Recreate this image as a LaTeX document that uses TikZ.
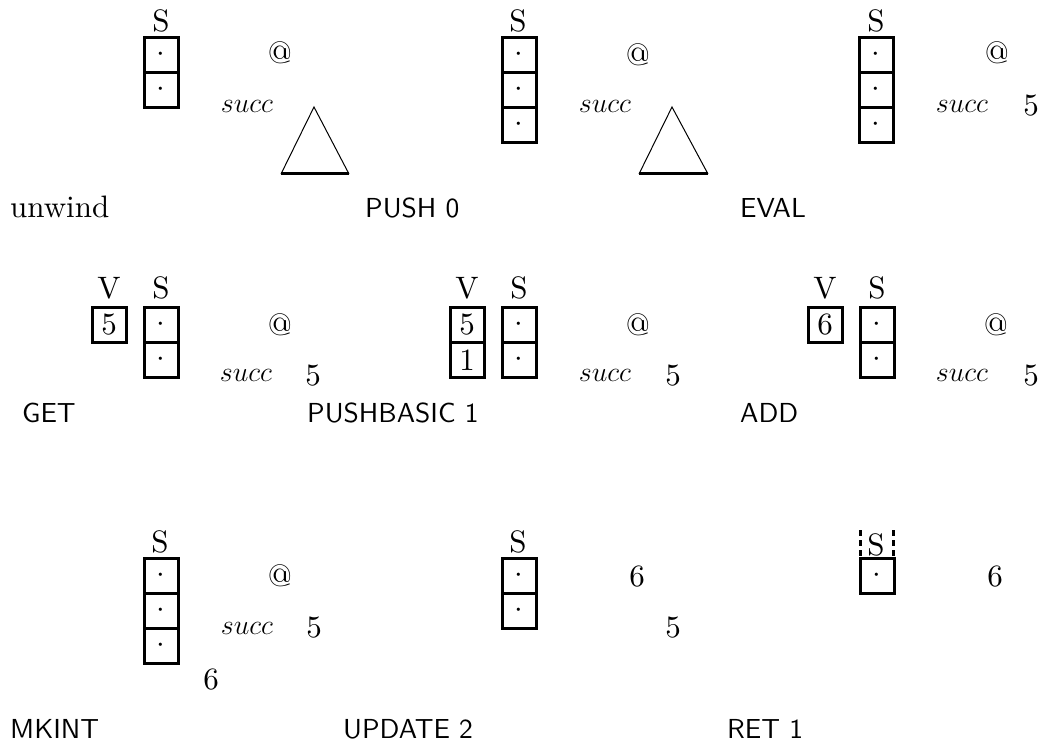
\RequirePackage{fix-cm}
\documentclass[tikz,border=0pt]{standalone}
\usepackage{fontspec}
\setmainfont{lmroman10-regular.otf}[ItalicFont=lmroman10-italic.otf]
\setsansfont{lmsans10-regular.otf}
\begin{document}
\begin{tikzpicture}[x=1pt,y=-1pt,
  cell/.style={draw, line width=3pt, minimum width=34pt, minimum height=35pt, inner sep=0pt, font=\fontsize{31}{36}\selectfont},
  txt/.style={inner sep=0pt, font=\fontsize{31}{36}\selectfont},
  mtxt/.style={inner sep=0pt, font=\fontsize{28}{34}\selectfont},
  lbl/.style={inner sep=0pt, anchor=base west, font=\fontsize{27.5}{32}\selectfont\sffamily},
  tri/.style={line width=1pt},
  tribase/.style={line width=3pt}]
\useasboundingbox (0,0) rectangle (1042,746);
% ---------------- Row 1 ----------------
% panel 1
\node[txt] (s11) at (161,21) {S};
\node[cell] (c11a) at (161,55) {$\cdot$};
\node[cell] (c11b) at (161,90) {$\cdot$};
\node[txt] (at11) at (280,53) {@};
\node[mtxt] (su11) at (247,106) {$succ$};
\coordinate (t11a) at (314,107);
\coordinate (t11l) at (281,174);
\coordinate (t11r) at (349,174);
\draw[tri] (t11l) -- (t11a) -- (t11r);
\draw[tribase] (t11l) -- (t11r);
\node[lbl, font=\fontsize{31}{36}\selectfont\rmfamily] (l11) at (10,218) {unwind};
% panel 2
\node[txt] (s12) at (518,21) {S};
\node[cell] (c12a) at (519,55) {$\cdot$};
\node[cell] (c12b) at (519,90) {$\cdot$};
\node[cell] (c12c) at (519,125) {$\cdot$};
\node[txt] (at12) at (638,55) {@};
\node[mtxt] (su12) at (605,106) {$succ$};
\coordinate (t12a) at (672,107);
\coordinate (t12l) at (639,174);
\coordinate (t12r) at (708,174);
\draw[tri] (t12l) -- (t12a) -- (t12r);
\draw[tribase] (t12l) -- (t12r);
\node[lbl] (l12) at (365,218) {PUSH 0};
% panel 3
\node[txt] (s13) at (876,21) {S};
\node[cell] (c13a) at (876,55) {$\cdot$};
\node[cell] (c13b) at (876,90) {$\cdot$};
\node[cell] (c13c) at (876,125) {$\cdot$};
\node[txt] (at13) at (997,53) {@};
\node[mtxt] (su13) at (962,106) {$succ$};
\node[txt] (n13) at (1031,106) {5};
\node[lbl] (l13) at (740,218) {EVAL};
% ---------------- Row 2 ----------------
% panel 1
\node[txt] (v21) at (109,288) {V};
\node[cell] (w21a) at (109,325) {5};
\node[txt] (s21) at (161,288) {S};
\node[cell] (c21a) at (161,325) {$\cdot$};
\node[cell] (c21b) at (161,360) {$\cdot$};
\node[txt] (at21) at (280,325) {@};
\node[mtxt] (su21) at (246,375) {$succ$};
\node[txt] (n21) at (313,376) {5};
\node[lbl] (l21) at (22,422) {GET};
% panel 2
\node[txt] (v22) at (467,288) {V};
\node[cell] (w22a) at (467,325) {5};
\node[cell] (w22b) at (467,360) {1};
\node[txt] (s22) at (519,288) {S};
\node[cell] (c22a) at (519,325) {$\cdot$};
\node[cell] (c22b) at (519,360) {$\cdot$};
\node[txt] (at22) at (638,325) {@};
\node[mtxt] (su22) at (605,375) {$succ$};
\node[txt] (n22) at (673,376) {5};
\node[lbl] (l22) at (307,422) {PUSHBASIC 1};
% panel 3
\node[txt] (v23) at (825,288) {V};
\node[cell] (w23a) at (825,325) {6};
\node[txt] (s23) at (877,288) {S};
\node[cell] (c23a) at (877,325) {$\cdot$};
\node[cell] (c23b) at (877,360) {$\cdot$};
\node[txt] (at23) at (996,325) {@};
\node[mtxt] (su23) at (962,375) {$succ$};
\node[txt] (n23) at (1031,376) {5};
\node[lbl] (l23) at (740,422) {ADD};
% ---------------- Row 3 ----------------
% panel 1
\node[txt] (s31) at (160,542) {S};
\node[cell] (c31a) at (161,576) {$\cdot$};
\node[cell] (c31b) at (161,611) {$\cdot$};
\node[cell] (c31c) at (161,646) {$\cdot$};
\node[txt] (at31) at (280,576) {@};
\node[mtxt] (su31) at (247,628) {$succ$};
\node[txt] (n31) at (314,628) {5};
\node[txt] (m31) at (211,680) {6};
\node[lbl] (l31) at (10,738) {MKINT};
% panel 2
\node[txt] (s32) at (518,542) {S};
\node[cell] (c32a) at (519,576) {$\cdot$};
\node[cell] (c32b) at (519,611) {$\cdot$};
\node[txt] (m32) at (637,577) {6};
\node[txt] (n32) at (673,628) {5};
\node[lbl] (l32) at (343,738) {UPDATE 2};
% panel 3
\node[txt] (s33) at (876,545) {S};
\node[cell] (c33a) at (877,576) {$\cdot$};
\coordinate (d33l) at (860.5,530);
\coordinate (d33r) at (893.5,530);
\draw[line width=3pt, dash pattern=on 6pt off 4pt] (d33l) -- (d33l |- c33a.north);
\draw[line width=3pt, dash pattern=on 6pt off 4pt] (d33r) -- (d33r |- c33a.north);
\node[txt] (m33) at (995,577) {6};
\node[lbl] (l33) at (727,738) {RET 1};
\end{tikzpicture}
\end{document}
